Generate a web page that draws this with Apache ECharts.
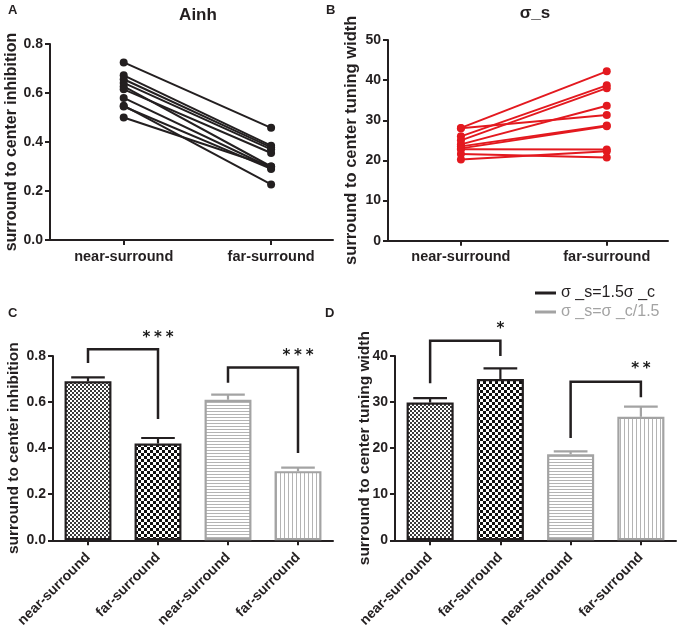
<!DOCTYPE html>
<html>
<head>
<meta charset="utf-8">
<script src="https://cdn.jsdelivr.net/npm/echarts@6/dist/echarts.min.js"></script>
<style>html,body{margin:0;padding:0;background:#fff}#c{width:686px;height:630px}</style>
</head>
<body>
<div id="c"></div>
<script>
// ---------- data ----------
const pairCats = ['near-surround', 'far-surround'];
const ainhNear = [0.725, 0.672, 0.656, 0.641, 0.627, 0.615, 0.58, 0.548, 0.545, 0.50];
const ainhFar  = [0.458, 0.385, 0.378, 0.37, 0.30, 0.355, 0.295, 0.227, 0.29, 0.30];
const sigNear  = [28.1, 28.0, 26.0, 25.0, 24.0, 23.5, 23.0, 22.8, 21.6, 20.2];
const sigFar   = [42.2, 31.3, 38.7, 38.0, 33.6, 28.7, 28.5, 22.7, 20.7, 22.3];
const barCats  = ['near-surround', 'far-surround', 'near-surround', 'far-surround'];
const inhMean  = [0.69, 0.42, 0.61, 0.30];
const inhSem   = [0.017, 0.024, 0.022, 0.015];
const widMean  = [29.9, 35.0, 18.7, 26.8];
const widSem   = [0.95, 2.3, 0.6, 2.2];
const seriesNames = ['σ _s=1.5σ _c', 'σ _s=σ _c/1.5'];
// brackets: [leftCat, rightCat, leftBottom, rightBottom, top, starY]
const inhBrackets = [[0, 1, 0.77, 0.527, 0.829, 0.876], [2, 3, 0.684, 0.379, 0.75, 0.798]];
const inhStars = ['*\u2005*\u2005*', '*\u2005*\u2005*'];
const widBrackets = [[0, 1, 34.1, 40.0, 43.3, 45.8], [2, 3, 22.2, 31.05, 34.4, 37.1]];
const widStars = ['*', '*\u2005*'];

// ---------- styles ----------
const FONT = '"Liberation Sans", Arial, sans-serif';
const INK = '#231f20';
const GRAY = '#a3a3a3';
const RED = '#e3191f';

function makePattern(kind) {
  const c = document.createElement('canvas');
  const ctx = c.getContext('2d');
  if (kind === 'fineCheck') {
    c.width = 4; c.height = 4;
    ctx.fillStyle = '#fff'; ctx.fillRect(0, 0, 4, 4);
    ctx.fillStyle = '#3a3a3a'; ctx.fillRect(0, 0, 2, 2); ctx.fillRect(2, 2, 2, 2);
  } else if (kind === 'coarseCheck') {
    c.width = 6; c.height = 6;
    ctx.fillStyle = '#fff'; ctx.fillRect(0, 0, 6, 6);
    ctx.fillStyle = '#111'; ctx.fillRect(0, 0, 3, 3); ctx.fillRect(3, 3, 3, 3);
  } else if (kind === 'hLines') {
    c.width = 4; c.height = 3;
    ctx.fillStyle = '#fff'; ctx.fillRect(0, 0, 4, 3);
    ctx.fillStyle = '#b4b4b4'; ctx.fillRect(0, 0, 4, 1);
  } else {
    c.width = 4; c.height = 4;
    ctx.fillStyle = '#fff'; ctx.fillRect(0, 0, 4, 4);
    ctx.fillStyle = '#b4b4b4'; ctx.fillRect(0, 0, 1, 4);
  }
  return { image: c, repeat: 'repeat' };
}
const patterns = [makePattern('fineCheck'), makePattern('coarseCheck'), makePattern('hLines'), makePattern('vLines')];
const borderCols = [INK, INK, GRAY, GRAY];

const axisLineX = { show: true, onZero: false, lineStyle: { color: INK, width: 2 } };
const axisLineY = { show: true, onZero: false, lineStyle: { color: INK, width: 2 } };
const tickStyle = { show: true, length: 5, lineStyle: { color: INK, width: 2 } };
const labelBase = { color: INK, fontWeight: 'bold', fontSize: 14, fontFamily: FONT };
const nameBase = { color: INK, fontWeight: 'bold', fontSize: 16, fontFamily: FONT };

const chart = echarts.init(document.getElementById('c'), null, { renderer: 'canvas' });

const grids = [
  { left: 50, top: 44, width: 283, height: 196 },
  { left: 388, top: 40, width: 280, height: 200.7 },
  { left: 53, top: 356, width: 280, height: 184.7 },
  { left: 395, top: 356, width: 281, height: 184.7 }
];

function pairX(idx) {
  return {
    type: 'value', gridIndex: idx, min: -0.5, max: 1.42,
    axisLine: axisLineX, splitLine: { show: false },
    axisTick: Object.assign({}, tickStyle, { customValues: [0, 1] }),
    axisLabel: Object.assign({}, labelBase, { fontSize: 14.5, margin: 9, customValues: [0, 1], formatter: v => pairCats[Math.round(v)] })
  };
}
function barX(idx) {
  return {
    type: 'category', gridIndex: idx, data: barCats,
    axisLine: axisLineX,
    axisTick: Object.assign({}, tickStyle, { alignWithLabel: true }),
    axisLabel: Object.assign({}, labelBase, { rotate: 45, margin: 15, interval: 0 })
  };
}
function yAx(idx, max, interval, name, fmt, gap, nameSize) {
  return {
    type: 'value', gridIndex: idx, min: 0, max: max, interval: interval,
    name: name, nameLocation: 'middle', nameGap: gap, nameMoveOverlap: false,
    nameTextStyle: Object.assign({}, nameBase, { fontSize: nameSize }),
    axisLine: axisLineY, axisTick: tickStyle, splitLine: { show: false },
    axisLabel: Object.assign({}, labelBase, { margin: 7, formatter: fmt })
  };
}

const series = [];
ainhNear.forEach((v, i) => {
  series.push({
    type: 'line', xAxisIndex: 0, yAxisIndex: 0, silent: true,
    data: [[0, v], [1, ainhFar[i]]],
    symbol: 'circle', symbolSize: 8,
    lineStyle: { color: INK, width: 2 }, itemStyle: { color: INK }
  });
});
sigNear.forEach((v, i) => {
  series.push({
    type: 'line', xAxisIndex: 1, yAxisIndex: 1, silent: true,
    data: [[0, v], [1, sigFar[i]]],
    symbol: 'circle', symbolSize: 8,
    lineStyle: { color: RED, width: 2 }, itemStyle: { color: RED }
  });
});

function barSeries(gi, means) {
  const out = [];
  [0, 1].forEach(g => {
    out.push({
      type: 'bar', name: seriesNames[g], xAxisIndex: gi, yAxisIndex: gi,
      barWidth: '67%', barGap: '-100%', silent: true,
      itemStyle: { color: g === 0 ? INK : GRAY },
      data: means.map((m, k) => (Math.floor(k / 2) === g) ? {
        value: m,
        itemStyle: { color: patterns[k], borderColor: borderCols[k], borderWidth: 2.2 }
      } : '-')
    });
  });
  return out;
}
function errSeries(gi, means, sems) {
  return {
    type: 'custom', xAxisIndex: gi, yAxisIndex: gi, silent: true, clip: false, z: 3,
    data: means.map((m, k) => [k, m, sems[k]]),
    encode: { x: 0, y: 1 },
    renderItem: function (params, api) {
      const k = api.value(0), m = api.value(1), e = api.value(2);
      const p0 = api.coord([k, m]);
      const p1 = api.coord([k, m + e]);
      const hw = api.size([1, 0])[0] * 0.24;
      const col = borderCols[k];
      return {
        type: 'group', children: [
          { type: 'line', shape: { x1: p0[0], y1: p0[1], x2: p1[0], y2: p1[1] }, style: { stroke: col, lineWidth: 2.2 } },
          { type: 'line', shape: { x1: p1[0] - hw, y1: p1[1], x2: p1[0] + hw, y2: p1[1] }, style: { stroke: col, lineWidth: 2.2 } }
        ]
      };
    }
  };
}
function bracketSeries(gi, brackets, stars) {
  return {
    type: 'custom', xAxisIndex: gi, yAxisIndex: gi, silent: true, clip: false, z: 4,
    data: brackets,
    encode: { x: [0, 1], y: [2, 3, 4, 5] },
    renderItem: function (params, api) {
      const l = api.value(0), r = api.value(1);
      const a = api.coord([l, api.value(2)]);
      const t1 = api.coord([l, api.value(4)]);
      const t2 = api.coord([r, api.value(4)]);
      const b = api.coord([r, api.value(3)]);
      const s = api.coord([(l + r) / 2, api.value(5)]);
      return {
        type: 'group', children: [
          { type: 'polyline', shape: { points: [a, t1, t2, b] }, style: { stroke: INK, lineWidth: 2.5, fill: null } },
          { type: 'text', style: { text: stars[params.dataIndex], x: s[0], y: s[1], align: 'center', verticalAlign: 'middle', fill: '#1a1a1a', fontSize: 15, fontWeight: 'bold', fontFamily: '"DejaVu Sans", sans-serif' } }
        ]
      };
    }
  };
}
series.push(...barSeries(2, inhMean), errSeries(2, inhMean, inhSem), bracketSeries(2, inhBrackets, inhStars));
series.push(...barSeries(3, widMean), errSeries(3, widMean, widSem), bracketSeries(3, widBrackets, widStars));

const option = {
  animation: false,
  backgroundColor: '#fff',
  grid: grids,
  xAxis: [pairX(0), pairX(1), barX(2), barX(3)],
  yAxis: [
    yAx(0, 0.8, 0.2, 'surround to center inhibition', v => v.toFixed(1), 30, 16),
    yAx(1, 50, 10, 'surround to center tuning width', v => String(v), 28, 16.5),
    yAx(2, 0.8, 0.2, 'surround to center inhibition', v => v.toFixed(1), 31, 15.5),
    yAx(3, 40, 10, 'surround to center tuning width', v => String(v), 22, 15.5)
  ],
  legend: {
    orient: 'vertical', left: 530, top: 280, itemWidth: 21, itemHeight: 3, itemGap: 3,
    selectedMode: false,
    textStyle: { fontSize: 16, fontFamily: FONT, padding: [0, 0, 0, 0] },
    data: [
      { name: seriesNames[0], icon: 'rect', itemStyle: { color: INK, borderWidth: 0 }, textStyle: { color: INK } },
      { name: seriesNames[1], icon: 'rect', itemStyle: { color: GRAY, borderWidth: 0 }, textStyle: { color: GRAY } }
    ]
  },
  graphic: [
    { type: 'text', left: 8, top: 4, style: { text: 'A', font: 'bold 13px ' + FONT, fill: INK } },
    { type: 'text', left: 326, top: 4, style: { text: 'B', font: 'bold 13px ' + FONT, fill: INK } },
    { type: 'text', left: 8, top: 307, style: { text: 'C', font: 'bold 13px ' + FONT, fill: INK } },
    { type: 'text', left: 325, top: 307, style: { text: 'D', font: 'bold 13px ' + FONT, fill: INK } },
    { type: 'text', x: 198, y: 15, style: { text: 'Ainh', font: 'bold 17px ' + FONT, fill: INK, align: 'center', verticalAlign: 'middle' } },
    { type: 'text', x: 535, y: 13, style: { text: 'σ_s', font: 'bold 17px ' + FONT, fill: INK, align: 'center', verticalAlign: 'middle' } }
  ],
  series: series
};
chart.setOption(option);
</script>
</body>
</html>
